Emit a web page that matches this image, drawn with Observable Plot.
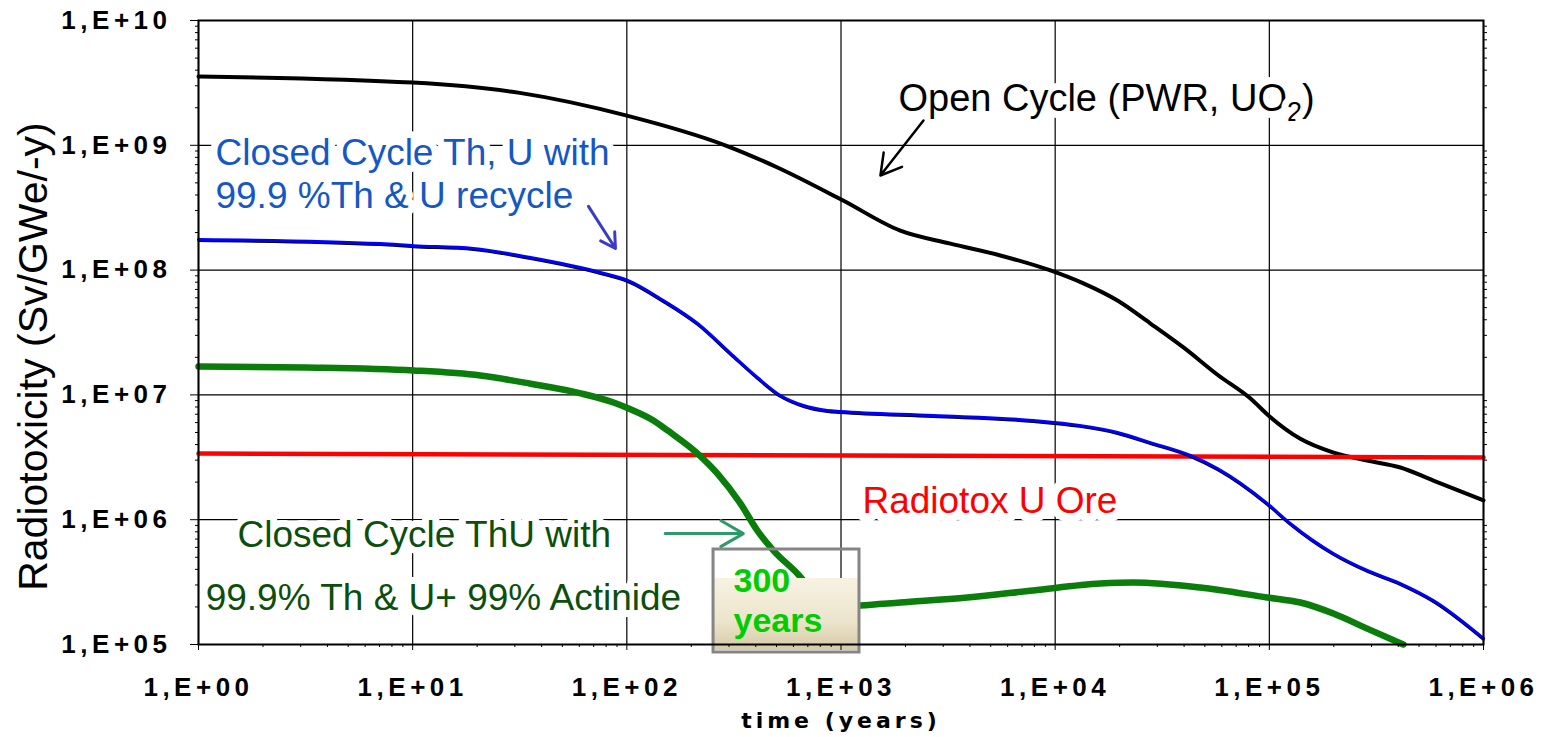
<!DOCTYPE html>
<html>
<head>
<meta charset="utf-8">
<script src="https://cdn.jsdelivr.net/npm/d3@7"></script>
<script src="https://cdn.jsdelivr.net/npm/@observablehq/plot@0.6"></script>
<style>
  body { margin: 0; background: #fff; }
  g[aria-label="x-axis tick label"] text,
  g[aria-label="y-axis tick label"] text { letter-spacing: 4.5px; }
</style>
</head>
<body>
<div id="chart"></div>
<script>
// ---- Data ----
const openTime  = [1, 10, 31.6, 100, 288, 505, 1023, 1892, 3243, 5546, 9506, 13550, 19540, 27860, 39720, 57280, 81660, 99100, 139600, 199500, 286400, 409300, 583400, 1e6];
const openValue = [3.56e9, 3.18e9, 2.63e9, 1.73e9, 1.0e9, 6.64e8, 3.61e8, 2.07e8, 1.63e8, 1.31e8, 9.93e7, 7.82e7, 5.70e7, 3.73e7, 2.40e7, 1.45e7, 9.35e6, 6.84e6, 4.45e6, 3.45e6, 2.98e6, 2.62e6, 2.06e6, 1.43e6];

const thuTime  = [1, 7.08, 10.1, 19.2, 35.5, 75.3, 101, 148, 214, 305, 407, 521, 668, 865, 995, 2698, 7907, 13000, 19540, 27860, 42850, 57280, 97720, 125300, 199100, 286400, 409300, 583400, 1e6];
const thuValue = [1.76e8, 1.63e8, 1.57e8, 1.49e8, 1.26e8, 9.57e7, 8.26e7, 5.70e7, 3.73e7, 2.15e7, 1.38e7, 9.89e6, 8.22e6, 7.50e6, 7.36e6, 6.84e6, 6.24e6, 5.70e6, 5.00e6, 4.15e6, 3.27e6, 2.57e6, 1.35e6, 9.33e5, 5.36e5, 3.92e5, 3.08e5, 2.25e5, 1.12e5];

const actTime  = [1, 3.16, 10.1, 20.7, 35.5, 60.8, 86.7, 102, 133, 155, 214, 265, 339, 407, 484, 625, 794, 955, 1230, 1892, 3890, 7907, 16260, 23170, 47640, 97720, 139600, 199100, 286400, 422700];
const actValue = [1.69e7, 1.66e7, 1.57e7, 1.43e7, 1.23e7, 1.03e7, 8.69e6, 7.78e6, 6.24e6, 5.19e6, 3.39e6, 2.34e6, 1.35e6, 8.18e5, 5.66e5, 3.71e5, 2.34e5, 1.95e5, 2.05e5, 2.17e5, 2.38e5, 2.71e5, 3.08e5, 3.14e5, 2.86e5, 2.38e5, 2.17e5, 1.77e5, 1.34e5, 1.0e5];

const oreTime  = [1, 1e6];
const oreValue = [3.39e6, 3.15e6];

const xTicks = [1, 10, 100, 1000, 1e4, 1e5, 1e6];
const yTicks = [1e5, 1e6, 1e7, 1e8, 1e9, 1e10];
const tickLabel = (d) => "1,E+" + String(Math.round(Math.log10(d))).padStart(2, "0");

const rows = (t, v) => t.map((d, i) => ({time: d, value: v[i]}));
const openRows = rows(openTime, openValue);
const thuRows = rows(thuTime, thuValue);
const actRows = rows(actTime, actValue);
const oreRows = rows(oreTime, oreValue);

const minorY = [];
for (let e = 5; e < 10; e++) for (let m = 2; m <= 9; m++) minorY.push(m * 10 ** e);
const minorX = [];
for (let e = 0; e < 6; e++) for (let m = 2; m <= 9; m++) minorX.push(m * 10 ** e);

const FONT = "Liberation Sans, Arial, sans-serif";

const annot = (text, x, y, color, opts = {}) =>
  Plot.text([text], {x: () => x, y: () => y, text: (d) => d, textAnchor: "start", lineAnchor: "middle",
    fill: color, fontSize: 37, fontFamily: FONT, stroke: "white", strokeWidth: 14, ...opts});

const chart = Plot.plot({
  width: 1545,
  height: 737,
  marginLeft: 198,
  marginRight: 62,
  marginTop: 20,
  marginBottom: 93,
  style: {fontFamily: FONT, background: "white", overflow: "visible"},
  x: {type: "log", domain: [1, 1e6], label: null},
  y: {type: "log", domain: [1e5, 1e10], label: null},
  marks: [
    Plot.gridX({ticks: xTicks, stroke: "#000", strokeOpacity: 1, strokeWidth: 1.2}),
    Plot.gridY({ticks: yTicks, stroke: "#000", strokeOpacity: 1, strokeWidth: 1.2}),

    // annotations with white backgrounds
    annot("Open Cycle (PWR, UO\u2082)", 1855, 2.37e9, "#000", {fontSize: 38}),
    annot("Closed Cycle Th, U with", 1.20, 8.59e8, "#1558c4"),
    annot("99.9 %Th & U recycle", 1.20, 3.89e8, "#1558c4"),
    annot("Closed Cycle ThU with", 1.52, 7.46e5, "#0b4f0b"),
    annot("99.9% Th & U+ 99% Actinide", 1.08, 2.34e5, "#0b4f0b"),
    annot("Radiotox U Ore", 1259, 1.40e6, "#ff0000", {strokeWidth: 18}),

    // curves
    Plot.line(openRows, {x: "time", y: "value", stroke: "#000", strokeWidth: 4, curve: "monotone-x"}),
    Plot.line(oreRows, {x: "time", y: "value", stroke: "#ff0000", strokeWidth: 4.5}),
    Plot.line(thuRows, {x: "time", y: "value", stroke: "#000", strokeWidth: 2, dy: 1.5, curve: "monotone-x"}),
    Plot.line(thuRows, {x: "time", y: "value", stroke: "#0000ff", strokeWidth: 3, curve: "monotone-x"}),
    Plot.line(actRows, {x: "time", y: "value", stroke: "#0a7d0a", strokeWidth: 6.5, curve: "monotone-x"}),

    // arrows
    Plot.arrow([0], {x1: () => 2427, y1: () => 1.58e9, x2: () => 1528, y2: () => 5.73e8, stroke: "#000", strokeWidth: 2.5, headLength: 16}),
    Plot.arrow([0], {x1: () => 66.2, y1: () => 3.24e8, x2: () => 88.5, y2: () => 1.49e8, stroke: "#3a3acc", strokeWidth: 3, headLength: 16}),
    Plot.arrow([0], {x1: () => 151, y1: () => 7.74e5, x2: () => 350, y2: () => 7.74e5, stroke: "#2e9a6a", strokeWidth: 3, headLength: 16}),

    // 300 years callout
    Plot.rect([0], {x1: () => 254, x2: () => 1220, y1: () => 8.96e4, y2: () => 3.38e5, fill: "url(#beige)"}),
    Plot.rect([0], {x1: () => 254, x2: () => 1220, y1: () => 8.63e4, y2: () => 5.77e5, fill: "none", stroke: "#858585", strokeWidth: 3}),
    Plot.text(["300"], {x: () => 315, y: () => 3.2e5, text: (d) => d, textAnchor: "start", lineAnchor: "middle", fill: "#00cc00", fontSize: 34, fontWeight: "bold", fontFamily: FONT}),
    Plot.text(["years"], {x: () => 315, y: () => 1.53e5, text: (d) => d, textAnchor: "start", lineAnchor: "middle", fill: "#00cc00", fontSize: 34, fontWeight: "bold", fontFamily: FONT}),

    Plot.frame({stroke: "#000", strokeWidth: 2}),

    // axes
    Plot.axisY({ticks: minorY, anchor: "left", tickSize: 3, tickFormat: () => "", label: null}),
    Plot.axisY({ticks: minorY, anchor: "right", tickSize: 3, tickFormat: () => "", label: null}),
    Plot.axisX({ticks: minorX, anchor: "bottom", tickSize: 3, tickFormat: () => "", label: null}),
    Plot.axisY({ticks: yTicks, anchor: "left", tickSize: 8, tickPadding: 19, tickFormat: tickLabel,
      fontSize: 26, fontWeight: "bold", fontFamily: FONT, label: null}),
    Plot.axisX({ticks: xTicks, anchor: "bottom", tickSize: 6, tickPadding: 27, tickFormat: tickLabel,
      fontSize: 26, fontWeight: "bold", fontFamily: FONT, label: null}),

    // axis titles
    Plot.text(["time (years)"], {frameAnchor: "bottom", dy: 76, text: (d) => d, lineAnchor: "middle",
      fontSize: 22, fontWeight: "bold", fontFamily: "DejaVu Sans, sans-serif", fill: "#000"}),
    Plot.text(["Radiotoxicity (Sv/GWe/-y)"], {x: () => 0.1697, y: () => 2.03e7, text: (d) => d, rotate: -90,
      textAnchor: "middle", lineAnchor: "middle", fontSize: 41, fontFamily: FONT, fill: "#000"})
  ]
});

// gradient for the callout box
const svg = d3.select(chart);
const defs = svg.insert("defs", ":first-child");
const grad = defs.append("linearGradient").attr("id", "beige").attr("x1", 0).attr("y1", 0).attr("x2", 0).attr("y2", 1);
grad.append("stop").attr("offset", "0%").attr("stop-color", "#f7f2e2");
grad.append("stop").attr("offset", "60%").attr("stop-color", "#ece4cc");
grad.append("stop").attr("offset", "100%").attr("stop-color", "#d6caa6");

// letter-spacing for the x-axis title
svg.selectAll("text").filter(function() { return this.textContent === "time (years)"; }).style("letter-spacing", "4px");

// real subscript for UO2
svg.selectAll("text").filter(function() { return this.textContent === "Open Cycle (PWR, UO\u2082)"; }).each(function() {
  const t = d3.select(this);
  t.text(null);
  t.append("tspan").text("Open Cycle (PWR, UO");
  t.append("tspan").attr("dy", 10).attr("font-size", 27).text("2");
  t.append("tspan").attr("dy", -10).text(")");
});

document.getElementById("chart").appendChild(chart);
</script>
</body>
</html>
